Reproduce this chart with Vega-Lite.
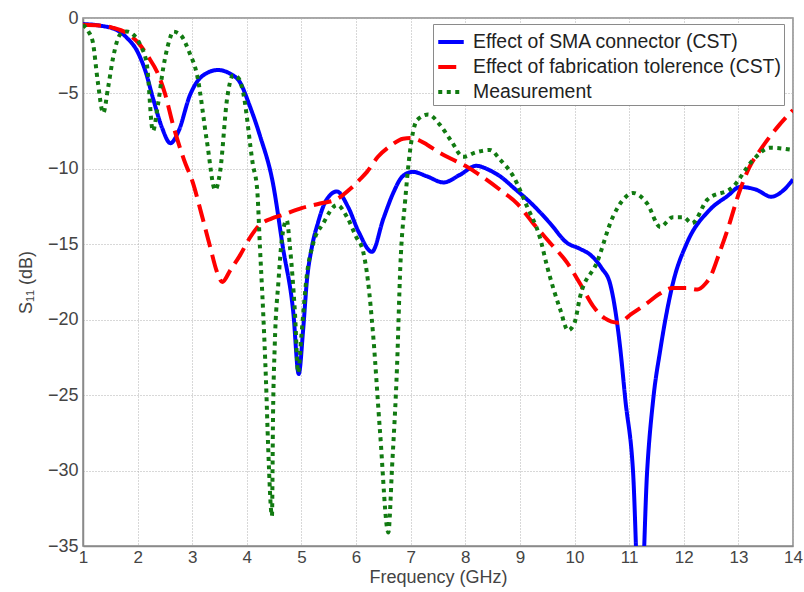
{
  "$schema": "https://vega.github.io/schema/vega-lite/v6.json",
  "width": 710,
  "height": 528,
  "autosize": {"type": "none"},
  "padding": {"left": 83, "top": 18, "right": 11, "bottom": 46},
  "background": "white",
  "config": {
    "font": "Liberation Sans",
    "view": {"stroke": "#8a8a8a", "strokeWidth": 1.5},
    "axis": {
      "labelFont": "Liberation Sans",
      "labelFontSize": 18,
      "labelColor": "#444444",
      "titleFont": "Liberation Sans",
      "titleFontSize": 18,
      "titleFontWeight": "normal",
      "titleColor": "#444444",
      "domainColor": "#8a8a8a",
      "domainWidth": 1.5,
      "ticks": false,
      "gridColor": "#b0b0b0",
      "gridDash": [1, 2],
      "gridWidth": 1
    }
  },
  "data": {
    "values": [
      {"f": 1.0, "s": -0.4, "series": "Effect of SMA connector (CST)"},
      {"f": 1.3, "s": -0.5, "series": "Effect of SMA connector (CST)"},
      {"f": 1.62, "s": -0.8, "series": "Effect of SMA connector (CST)"},
      {"f": 1.8, "s": -1.3, "series": "Effect of SMA connector (CST)"},
      {"f": 2.0, "s": -2.25, "series": "Effect of SMA connector (CST)"},
      {"f": 2.15, "s": -3.6, "series": "Effect of SMA connector (CST)"},
      {"f": 2.28, "s": -5.3, "series": "Effect of SMA connector (CST)"},
      {"f": 2.45, "s": -7.3, "series": "Effect of SMA connector (CST)"},
      {"f": 2.6, "s": -8.3, "series": "Effect of SMA connector (CST)"},
      {"f": 2.75, "s": -7.5, "series": "Effect of SMA connector (CST)"},
      {"f": 2.96, "s": -5.1, "series": "Effect of SMA connector (CST)"},
      {"f": 3.2, "s": -3.8, "series": "Effect of SMA connector (CST)"},
      {"f": 3.47, "s": -3.45, "series": "Effect of SMA connector (CST)"},
      {"f": 3.7, "s": -3.7, "series": "Effect of SMA connector (CST)"},
      {"f": 3.88, "s": -4.3, "series": "Effect of SMA connector (CST)"},
      {"f": 4.05, "s": -5.8, "series": "Effect of SMA connector (CST)"},
      {"f": 4.24, "s": -7.8, "series": "Effect of SMA connector (CST)"},
      {"f": 4.48, "s": -11.0, "series": "Effect of SMA connector (CST)"},
      {"f": 4.66, "s": -15.2, "series": "Effect of SMA connector (CST)"},
      {"f": 4.85, "s": -19.5, "series": "Effect of SMA connector (CST)"},
      {"f": 4.95, "s": -23.6, "series": "Effect of SMA connector (CST)"},
      {"f": 5.03, "s": -20.7, "series": "Effect of SMA connector (CST)"},
      {"f": 5.1, "s": -17.4, "series": "Effect of SMA connector (CST)"},
      {"f": 5.19, "s": -15.2, "series": "Effect of SMA connector (CST)"},
      {"f": 5.3, "s": -13.6, "series": "Effect of SMA connector (CST)"},
      {"f": 5.45, "s": -12.1, "series": "Effect of SMA connector (CST)"},
      {"f": 5.65, "s": -11.5, "series": "Effect of SMA connector (CST)"},
      {"f": 5.85, "s": -12.5, "series": "Effect of SMA connector (CST)"},
      {"f": 6.05, "s": -14.2, "series": "Effect of SMA connector (CST)"},
      {"f": 6.29, "s": -15.5, "series": "Effect of SMA connector (CST)"},
      {"f": 6.5, "s": -13.3, "series": "Effect of SMA connector (CST)"},
      {"f": 6.68, "s": -11.6, "series": "Effect of SMA connector (CST)"},
      {"f": 6.85, "s": -10.5, "series": "Effect of SMA connector (CST)"},
      {"f": 7.04, "s": -10.2, "series": "Effect of SMA connector (CST)"},
      {"f": 7.3, "s": -10.5, "series": "Effect of SMA connector (CST)"},
      {"f": 7.6, "s": -10.9, "series": "Effect of SMA connector (CST)"},
      {"f": 7.9, "s": -10.4, "series": "Effect of SMA connector (CST)"},
      {"f": 8.2, "s": -9.8, "series": "Effect of SMA connector (CST)"},
      {"f": 8.45, "s": -10.1, "series": "Effect of SMA connector (CST)"},
      {"f": 8.64, "s": -10.5, "series": "Effect of SMA connector (CST)"},
      {"f": 8.9, "s": -11.3, "series": "Effect of SMA connector (CST)"},
      {"f": 9.24, "s": -12.4, "series": "Effect of SMA connector (CST)"},
      {"f": 9.55, "s": -13.6, "series": "Effect of SMA connector (CST)"},
      {"f": 9.86, "s": -14.9, "series": "Effect of SMA connector (CST)"},
      {"f": 10.1, "s": -15.3, "series": "Effect of SMA connector (CST)"},
      {"f": 10.29, "s": -15.7, "series": "Effect of SMA connector (CST)"},
      {"f": 10.5, "s": -16.6, "series": "Effect of SMA connector (CST)"},
      {"f": 10.65, "s": -17.6, "series": "Effect of SMA connector (CST)"},
      {"f": 10.84, "s": -22.0, "series": "Effect of SMA connector (CST)"},
      {"f": 10.93, "s": -25.3, "series": "Effect of SMA connector (CST)"},
      {"f": 11.07, "s": -30.0, "series": "Effect of SMA connector (CST)"},
      {"f": 11.2, "s": -40.5, "series": "Effect of SMA connector (CST)"},
      {"f": 11.33, "s": -30.0, "series": "Effect of SMA connector (CST)"},
      {"f": 11.44, "s": -25.3, "series": "Effect of SMA connector (CST)"},
      {"f": 11.57, "s": -22.0, "series": "Effect of SMA connector (CST)"},
      {"f": 11.8, "s": -17.6, "series": "Effect of SMA connector (CST)"},
      {"f": 12.06, "s": -14.9, "series": "Effect of SMA connector (CST)"},
      {"f": 12.48, "s": -12.7, "series": "Effect of SMA connector (CST)"},
      {"f": 12.8, "s": -11.8, "series": "Effect of SMA connector (CST)"},
      {"f": 13.03, "s": -11.2, "series": "Effect of SMA connector (CST)"},
      {"f": 13.34, "s": -11.4, "series": "Effect of SMA connector (CST)"},
      {"f": 13.6, "s": -11.85, "series": "Effect of SMA connector (CST)"},
      {"f": 13.8, "s": -11.5, "series": "Effect of SMA connector (CST)"},
      {"f": 14.0, "s": -10.7, "series": "Effect of SMA connector (CST)"},

      {"f": 1.0, "s": -0.45, "series": "Effect of fabrication tolerence (CST)"},
      {"f": 1.3, "s": -0.5, "series": "Effect of fabrication tolerence (CST)"},
      {"f": 1.55, "s": -0.65, "series": "Effect of fabrication tolerence (CST)"},
      {"f": 1.8, "s": -1.0, "series": "Effect of fabrication tolerence (CST)"},
      {"f": 2.0, "s": -1.6, "series": "Effect of fabrication tolerence (CST)"},
      {"f": 2.2, "s": -2.6, "series": "Effect of fabrication tolerence (CST)"},
      {"f": 2.36, "s": -3.6, "series": "Effect of fabrication tolerence (CST)"},
      {"f": 2.5, "s": -5.0, "series": "Effect of fabrication tolerence (CST)"},
      {"f": 2.65, "s": -7.1, "series": "Effect of fabrication tolerence (CST)"},
      {"f": 2.85, "s": -9.4, "series": "Effect of fabrication tolerence (CST)"},
      {"f": 3.01, "s": -10.9, "series": "Effect of fabrication tolerence (CST)"},
      {"f": 3.17, "s": -13.0, "series": "Effect of fabrication tolerence (CST)"},
      {"f": 3.33, "s": -15.2, "series": "Effect of fabrication tolerence (CST)"},
      {"f": 3.45, "s": -16.8, "series": "Effect of fabrication tolerence (CST)"},
      {"f": 3.55, "s": -17.5, "series": "Effect of fabrication tolerence (CST)"},
      {"f": 3.7, "s": -16.7, "series": "Effect of fabrication tolerence (CST)"},
      {"f": 3.88, "s": -15.7, "series": "Effect of fabrication tolerence (CST)"},
      {"f": 4.05, "s": -14.6, "series": "Effect of fabrication tolerence (CST)"},
      {"f": 4.24, "s": -13.7, "series": "Effect of fabrication tolerence (CST)"},
      {"f": 4.45, "s": -13.3, "series": "Effect of fabrication tolerence (CST)"},
      {"f": 4.66, "s": -13.05, "series": "Effect of fabrication tolerence (CST)"},
      {"f": 5.0, "s": -12.6, "series": "Effect of fabrication tolerence (CST)"},
      {"f": 5.34, "s": -12.3, "series": "Effect of fabrication tolerence (CST)"},
      {"f": 5.65, "s": -12.0, "series": "Effect of fabrication tolerence (CST)"},
      {"f": 5.9, "s": -11.3, "series": "Effect of fabrication tolerence (CST)"},
      {"f": 6.07, "s": -10.7, "series": "Effect of fabrication tolerence (CST)"},
      {"f": 6.2, "s": -10.2, "series": "Effect of fabrication tolerence (CST)"},
      {"f": 6.4, "s": -9.2, "series": "Effect of fabrication tolerence (CST)"},
      {"f": 6.62, "s": -8.5, "series": "Effect of fabrication tolerence (CST)"},
      {"f": 6.86, "s": -8.0, "series": "Effect of fabrication tolerence (CST)"},
      {"f": 7.0, "s": -7.95, "series": "Effect of fabrication tolerence (CST)"},
      {"f": 7.12, "s": -8.05, "series": "Effect of fabrication tolerence (CST)"},
      {"f": 7.3, "s": -8.4, "series": "Effect of fabrication tolerence (CST)"},
      {"f": 7.54, "s": -8.95, "series": "Effect of fabrication tolerence (CST)"},
      {"f": 7.72, "s": -9.3, "series": "Effect of fabrication tolerence (CST)"},
      {"f": 8.0, "s": -9.8, "series": "Effect of fabrication tolerence (CST)"},
      {"f": 8.22, "s": -10.3, "series": "Effect of fabrication tolerence (CST)"},
      {"f": 8.64, "s": -11.4, "series": "Effect of fabrication tolerence (CST)"},
      {"f": 8.95, "s": -12.3, "series": "Effect of fabrication tolerence (CST)"},
      {"f": 9.24, "s": -13.6, "series": "Effect of fabrication tolerence (CST)"},
      {"f": 9.55, "s": -14.9, "series": "Effect of fabrication tolerence (CST)"},
      {"f": 9.86, "s": -16.2, "series": "Effect of fabrication tolerence (CST)"},
      {"f": 10.1, "s": -17.6, "series": "Effect of fabrication tolerence (CST)"},
      {"f": 10.34, "s": -19.1, "series": "Effect of fabrication tolerence (CST)"},
      {"f": 10.55, "s": -19.9, "series": "Effect of fabrication tolerence (CST)"},
      {"f": 10.8, "s": -20.2, "series": "Effect of fabrication tolerence (CST)"},
      {"f": 11.05, "s": -19.6, "series": "Effect of fabrication tolerence (CST)"},
      {"f": 11.33, "s": -18.9, "series": "Effect of fabrication tolerence (CST)"},
      {"f": 11.55, "s": -18.3, "series": "Effect of fabrication tolerence (CST)"},
      {"f": 11.8, "s": -17.9, "series": "Effect of fabrication tolerence (CST)"},
      {"f": 12.05, "s": -17.9, "series": "Effect of fabrication tolerence (CST)"},
      {"f": 12.25, "s": -18.0, "series": "Effect of fabrication tolerence (CST)"},
      {"f": 12.4, "s": -17.6, "series": "Effect of fabrication tolerence (CST)"},
      {"f": 12.48, "s": -17.2, "series": "Effect of fabrication tolerence (CST)"},
      {"f": 12.65, "s": -15.6, "series": "Effect of fabrication tolerence (CST)"},
      {"f": 12.8, "s": -14.05, "series": "Effect of fabrication tolerence (CST)"},
      {"f": 13.03, "s": -11.4, "series": "Effect of fabrication tolerence (CST)"},
      {"f": 13.2, "s": -9.9, "series": "Effect of fabrication tolerence (CST)"},
      {"f": 13.4, "s": -8.75, "series": "Effect of fabrication tolerence (CST)"},
      {"f": 13.7, "s": -7.3, "series": "Effect of fabrication tolerence (CST)"},
      {"f": 14.0, "s": -6.1, "series": "Effect of fabrication tolerence (CST)"},

      {"f": 1.0, "s": -0.45, "series": "Measurement"},
      {"f": 1.1, "s": -0.9, "series": "Measurement"},
      {"f": 1.18, "s": -1.6, "series": "Measurement"},
      {"f": 1.27, "s": -4.2, "series": "Measurement"},
      {"f": 1.37, "s": -6.3, "series": "Measurement"},
      {"f": 1.46, "s": -4.6, "series": "Measurement"},
      {"f": 1.55, "s": -2.65, "series": "Measurement"},
      {"f": 1.68, "s": -1.1, "series": "Measurement"},
      {"f": 1.8, "s": -0.9, "series": "Measurement"},
      {"f": 1.92, "s": -1.1, "series": "Measurement"},
      {"f": 2.05, "s": -1.8, "series": "Measurement"},
      {"f": 2.17, "s": -3.1, "series": "Measurement"},
      {"f": 2.28, "s": -7.5, "series": "Measurement"},
      {"f": 2.37, "s": -5.8, "series": "Measurement"},
      {"f": 2.47, "s": -3.3, "series": "Measurement"},
      {"f": 2.58, "s": -1.5, "series": "Measurement"},
      {"f": 2.65, "s": -0.9, "series": "Measurement"},
      {"f": 2.78, "s": -1.1, "series": "Measurement"},
      {"f": 2.95, "s": -2.3, "series": "Measurement"},
      {"f": 3.09, "s": -3.8, "series": "Measurement"},
      {"f": 3.27, "s": -8.2, "series": "Measurement"},
      {"f": 3.42, "s": -11.4, "series": "Measurement"},
      {"f": 3.51, "s": -10.2, "series": "Measurement"},
      {"f": 3.64, "s": -5.3, "series": "Measurement"},
      {"f": 3.75, "s": -3.8, "series": "Measurement"},
      {"f": 3.85, "s": -4.0, "series": "Measurement"},
      {"f": 3.93, "s": -4.9, "series": "Measurement"},
      {"f": 4.11, "s": -9.7, "series": "Measurement"},
      {"f": 4.19, "s": -11.4, "series": "Measurement"},
      {"f": 4.24, "s": -15.2, "series": "Measurement"},
      {"f": 4.3, "s": -19.6, "series": "Measurement"},
      {"f": 4.35, "s": -24.0, "series": "Measurement"},
      {"f": 4.39, "s": -28.4, "series": "Measurement"},
      {"f": 4.46, "s": -33.0, "series": "Measurement"},
      {"f": 4.48, "s": -26.2, "series": "Measurement"},
      {"f": 4.51, "s": -21.8, "series": "Measurement"},
      {"f": 4.58, "s": -17.4, "series": "Measurement"},
      {"f": 4.64, "s": -14.7, "series": "Measurement"},
      {"f": 4.73, "s": -13.4, "series": "Measurement"},
      {"f": 4.79, "s": -15.2, "series": "Measurement"},
      {"f": 4.88, "s": -19.5, "series": "Measurement"},
      {"f": 4.94, "s": -23.5, "series": "Measurement"},
      {"f": 5.0, "s": -21.0, "series": "Measurement"},
      {"f": 5.1, "s": -17.0, "series": "Measurement"},
      {"f": 5.21, "s": -15.0, "series": "Measurement"},
      {"f": 5.4, "s": -13.6, "series": "Measurement"},
      {"f": 5.65, "s": -12.4, "series": "Measurement"},
      {"f": 5.85, "s": -13.3, "series": "Measurement"},
      {"f": 6.0, "s": -14.5, "series": "Measurement"},
      {"f": 6.13, "s": -15.5, "series": "Measurement"},
      {"f": 6.22, "s": -17.5, "series": "Measurement"},
      {"f": 6.31, "s": -20.9, "series": "Measurement"},
      {"f": 6.44, "s": -27.5, "series": "Measurement"},
      {"f": 6.59, "s": -34.1, "series": "Measurement"},
      {"f": 6.66, "s": -29.7, "series": "Measurement"},
      {"f": 6.75, "s": -23.1, "series": "Measurement"},
      {"f": 6.81, "s": -16.5, "series": "Measurement"},
      {"f": 6.9, "s": -12.05, "series": "Measurement"},
      {"f": 6.99, "s": -8.75, "series": "Measurement"},
      {"f": 7.12, "s": -6.75, "series": "Measurement"},
      {"f": 7.32, "s": -6.4, "series": "Measurement"},
      {"f": 7.54, "s": -7.1, "series": "Measurement"},
      {"f": 7.75, "s": -8.2, "series": "Measurement"},
      {"f": 7.96, "s": -9.2, "series": "Measurement"},
      {"f": 8.2, "s": -8.9, "series": "Measurement"},
      {"f": 8.45, "s": -8.75, "series": "Measurement"},
      {"f": 8.64, "s": -9.4, "series": "Measurement"},
      {"f": 8.88, "s": -10.5, "series": "Measurement"},
      {"f": 9.13, "s": -12.5, "series": "Measurement"},
      {"f": 9.37, "s": -14.6, "series": "Measurement"},
      {"f": 9.5, "s": -16.5, "series": "Measurement"},
      {"f": 9.74, "s": -19.35, "series": "Measurement"},
      {"f": 9.88, "s": -20.7, "series": "Measurement"},
      {"f": 10.0, "s": -20.2, "series": "Measurement"},
      {"f": 10.1, "s": -18.5, "series": "Measurement"},
      {"f": 10.41, "s": -16.2, "series": "Measurement"},
      {"f": 10.7, "s": -13.2, "series": "Measurement"},
      {"f": 10.9, "s": -12.0, "series": "Measurement"},
      {"f": 11.07, "s": -11.6, "series": "Measurement"},
      {"f": 11.33, "s": -12.3, "series": "Measurement"},
      {"f": 11.57, "s": -13.85, "series": "Measurement"},
      {"f": 11.8, "s": -13.2, "series": "Measurement"},
      {"f": 11.99, "s": -13.2, "series": "Measurement"},
      {"f": 12.15, "s": -13.6, "series": "Measurement"},
      {"f": 12.43, "s": -12.05, "series": "Measurement"},
      {"f": 12.9, "s": -11.2, "series": "Measurement"},
      {"f": 13.27, "s": -9.4, "series": "Measurement"},
      {"f": 13.58, "s": -8.6, "series": "Measurement"},
      {"f": 14.0, "s": -8.75, "series": "Measurement"}
    ]
  },
  "mark": {"type": "line", "interpolate": "monotone", "clip": true, "strokeWidth": 4},
  "encoding": {
    "x": {
      "field": "f",
      "type": "quantitative",
      "scale": {"domain": [1, 14], "nice": false, "zero": false},
      "axis": {"values": [1,2,3,4,5,6,7,8,9,10,11,12,13,14], "title": "Frequency (GHz)", "labelFontSize": 17, "labelPadding": 3, "titlePadding": 3, "labelFlush": false}
    },
    "y": {
      "field": "s",
      "type": "quantitative",
      "scale": {"domain": [-35, 0], "nice": false, "zero": false},
      "axis": {"values": [0,-5,-10,-15,-20,-25,-30,-35], "title": "S₁₁ (dB)", "labelPadding": 5, "titlePadding": 12, "labelFlush": false}
    },
    "color": {
      "field": "series",
      "type": "nominal",
      "scale": {
        "domain": ["Effect of SMA connector (CST)", "Effect of fabrication tolerence (CST)", "Measurement"],
        "range": ["#0000ff", "#ff0000", "#117a11"]
      },
      "legend": {
        "title": null,
        "orient": "none",
        "legendX": 350,
        "legendY": 6,
        "fillColor": "white",
        "strokeColor": "#8a8a8a",
        "padding": 3,
        "labelFont": "Liberation Sans",
        "labelFontSize": 19.4,
        "labelColor": "#222222",
        "labelOffset": 7,
        "symbolType": "stroke",
        "symbolSize": 650,
        "symbolStrokeWidth": 4,
        "rowPadding": 0,
        "labelLimit": 400
      }
    },
    "strokeDash": {
      "field": "series",
      "type": "nominal",
      "scale": {
        "domain": ["Effect of SMA connector (CST)", "Effect of fabrication tolerence (CST)", "Measurement"],
        "range": [[1, 0], [18, 8], [4, 4.5]]
      },
      "legend": null
    }
  }
}
